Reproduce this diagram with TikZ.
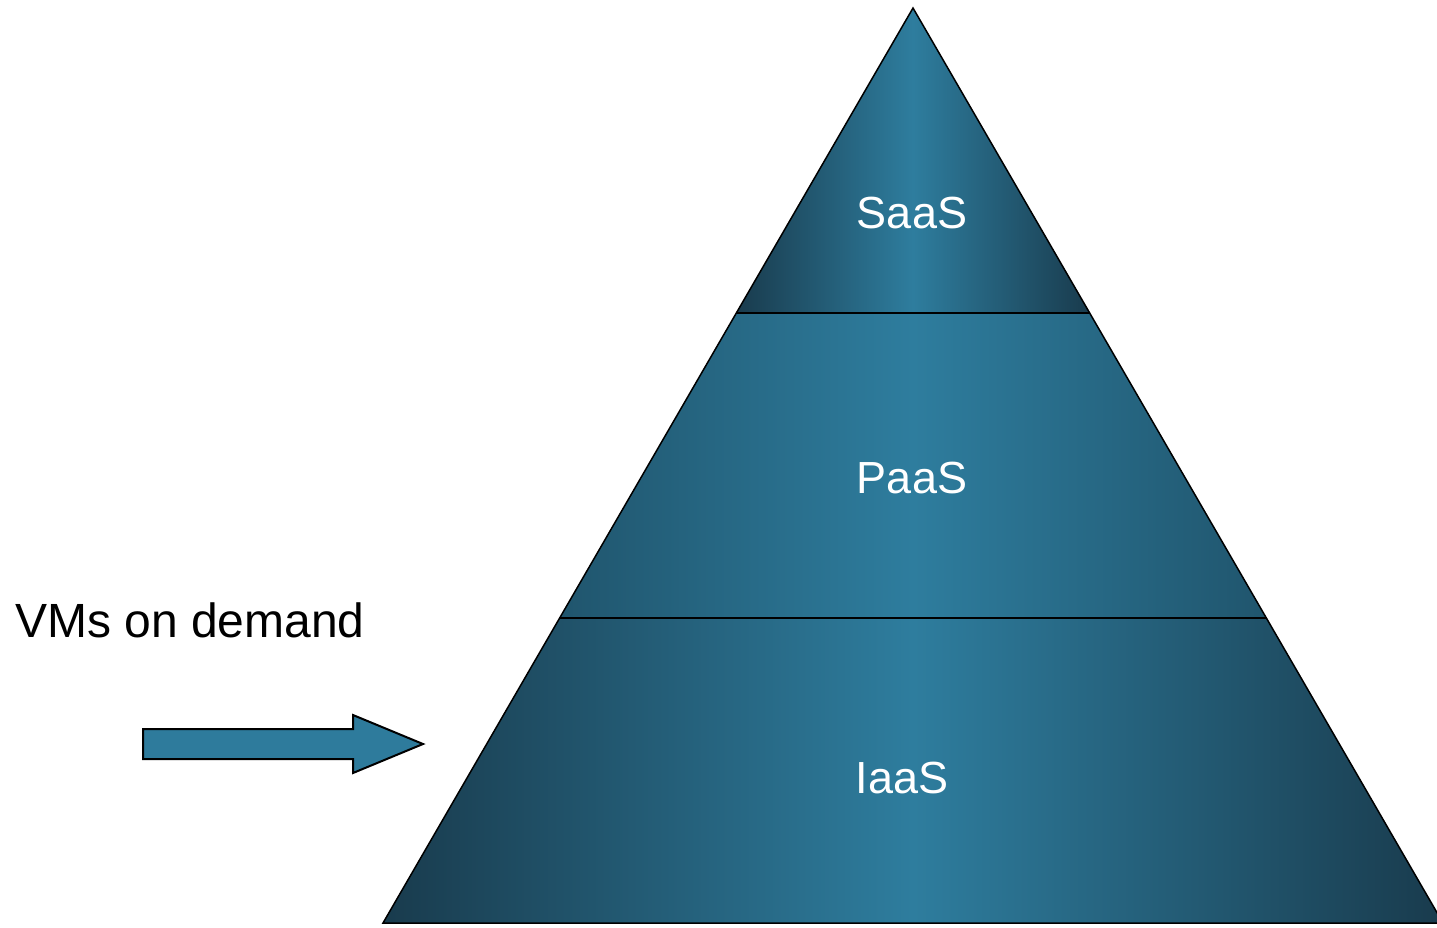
\documentclass[tikz,border=0pt]{standalone}
\usepackage{fontspec}
\setmainfont{Liberation Sans}
\usepackage{xcolor}
\usepackage{tikz}

\definecolor{pyrdark}{HTML}{193B4D}
\definecolor{pyrmid}{HTML}{20556D}
\definecolor{pyrlight}{HTML}{2E7D9E}
\definecolor{arrowfill}{HTML}{2E7B9C}

\tikzset{
    band/.style={left color=#1, right color=#1, middle color=pyrlight},
    band/.default=pyrdark,
    bandlabel/.style={anchor=base, inner sep=0pt, text=white, font=\fontsize{45}{54}\selectfont},
}

\begin{document}
\begin{tikzpicture}[x=1pt, y=-1pt]
    \useasboundingbox (0,0) rectangle (1437,927);
    \clip (0,0) rectangle (1437,927);

    % Corners of the pyramid and its layers
    \coordinate (apex) at (913,8);
    \coordinate (sl) at (736.3,313);
    \coordinate (sr) at (1089.7,313);
    \coordinate (pl) at (559.7,618);
    \coordinate (pr) at (1266.3,618);
    \coordinate (bl) at (383,923);
    \coordinate (br) at (1443,923);

    % Shaded layers
    \shade[band] (apex) -- (sr) -- (sl) -- cycle;
    \shade[band=pyrmid] (sl) -- (sr) -- (pr) -- (pl) -- cycle;
    \shade[band] (pl) -- (pr) -- (br) -- (bl) -- cycle;

    % Outline and dividing lines
    \draw[line width=1.5pt, line join=miter] (apex) -- (br) -- (bl) -- cycle;
    \draw[line width=1.5pt] (sl) -- (sr);
    \draw[line width=1.5pt] (pl) -- (pr);

    % Layer labels
    \node[bandlabel] (saas) at (912,228) {SaaS};
    \node[bandlabel] (paas) at (912,493) {PaaS};
    \node[bandlabel] (iaas) at (902,793) {IaaS};

    % Side label and arrow
    \node[anchor=base west, inner sep=0pt, font=\fontsize{48}{57}\selectfont] (vms) at (15,637) {VMs on demand};
    \draw[line width=2pt, fill=arrowfill, line join=miter]
        (143,729) -- (353,729) -- (353,715) -- (423,744) -- (353,773) -- (353,759) -- (143,759) -- cycle;

\end{tikzpicture}
\end{document}
